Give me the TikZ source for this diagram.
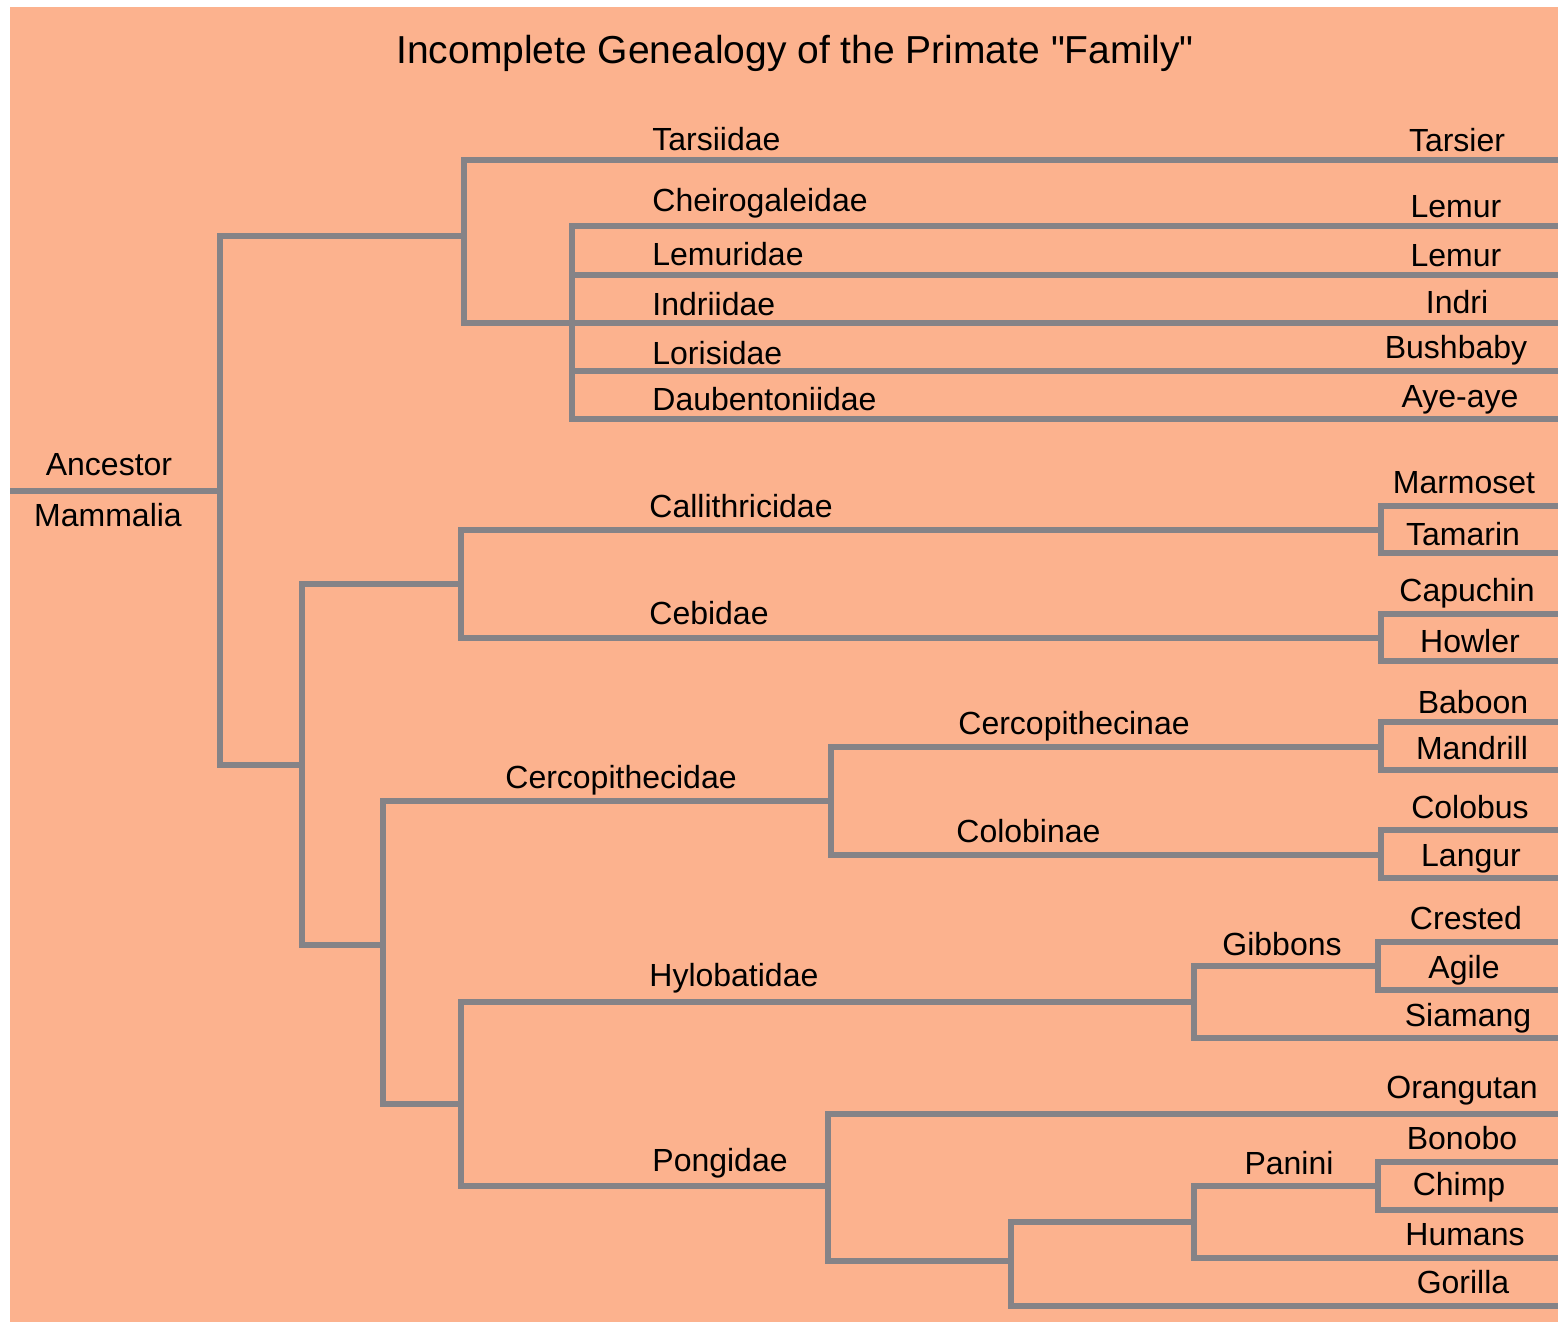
\documentclass[tikz,border=0pt]{standalone}
\usepackage{fontspec}
\setmainfont{Liberation Sans}[Ligatures=TeXOff]
\usepackage{tikz}
\definecolor{salmon}{RGB}{252,178,142}
\definecolor{branchgray}{RGB}{133,131,135}
\tikzset{
    branch/.style={draw=branchgray, line width=3pt, line join=miter},
    clade/.style={anchor=base west, inner sep=0pt, font=\fontsize{16pt}{18pt}\selectfont},
    species/.style={anchor=base, inner sep=0pt, font=\fontsize{16pt}{18pt}\selectfont},
}

\begin{document}
\begin{tikzpicture}[x=0.5pt, y=-0.5pt]
    \useasboundingbox (0,0) rectangle (1558,1322);
    \fill[salmon] (10,7) rectangle (1558,1322);
    \node[anchor=base, inner sep=0pt, font=\fontsize{19.5pt}{22pt}\selectfont] (title) at (795,64) {Incomplete Genealogy of the Primate "Family"};

    \coordinate (root) at (10,491);
    \coordinate (primates) at (220,491);
    \coordinate (prosimii) at (464,236);
    \coordinate (lemuroidea) at (572,323);
    \coordinate (anthropoidea) at (302,765);
    \coordinate (platyrrhini) at (461,584);
    \coordinate (callith) at (1381,530);
    \coordinate (cebid) at (1381,638);
    \coordinate (catarrhini) at (383,945);
    \coordinate (cercopith) at (831,801);
    \coordinate (cercopithecinae) at (1381,747);
    \coordinate (colobinae) at (1381,855);
    \coordinate (hominoidea) at (461,1104);
    \coordinate (hylobat) at (1194,1002);
    \coordinate (gibbons) at (1378,966);
    \coordinate (pongid) at (828,1186);
    \coordinate (african) at (1011,1261);
    \coordinate (panini) at (1194,1222);
    \coordinate (pan) at (1378,1186);

    \coordinate (tarsier) at (1558,160);
    \coordinate (lemurA) at (1558,226);
    \coordinate (lemurB) at (1558,275);
    \coordinate (indri) at (1558,323);
    \coordinate (bushbaby) at (1558,371);
    \coordinate (ayeaye) at (1558,419);
    \coordinate (marmoset) at (1558,506);
    \coordinate (tamarin) at (1558,553);
    \coordinate (capuchin) at (1558,614);
    \coordinate (howler) at (1558,661);
    \coordinate (baboon) at (1558,722);
    \coordinate (mandrill) at (1558,770);
    \coordinate (colobus) at (1558,830);
    \coordinate (langur) at (1558,878);
    \coordinate (crested) at (1558,942);
    \coordinate (agile) at (1558,990);
    \coordinate (siamang) at (1558,1038);
    \coordinate (orangutan) at (1558,1114);
    \coordinate (bonobo) at (1558,1162);
    \coordinate (chimp) at (1558,1210);
    \coordinate (humans) at (1558,1258);
    \coordinate (gorilla) at (1558,1306);

    \draw[branch] (root) -- (primates);
    \draw[branch] (primates) |- (prosimii);
    \draw[branch] (primates) |- (anthropoidea);
    \draw[branch] (prosimii) |- (tarsier);
    \draw[branch] (prosimii) |- (lemuroidea);
    \draw[branch] (lemuroidea) |- (lemurA);
    \draw[branch] (lemuroidea) |- (lemurB);
    \draw[branch] (lemuroidea) -- (indri);
    \draw[branch] (lemuroidea) |- (bushbaby);
    \draw[branch] (lemuroidea) |- (ayeaye);
    \draw[branch] (anthropoidea) |- (platyrrhini);
    \draw[branch] (anthropoidea) |- (catarrhini);
    \draw[branch] (platyrrhini) |- (callith);
    \draw[branch] (platyrrhini) |- (cebid);
    \draw[branch] (callith) |- (marmoset);
    \draw[branch] (callith) |- (tamarin);
    \draw[branch] (cebid) |- (capuchin);
    \draw[branch] (cebid) |- (howler);
    \draw[branch] (catarrhini) |- (cercopith);
    \draw[branch] (catarrhini) |- (hominoidea);
    \draw[branch] (cercopith) |- (cercopithecinae);
    \draw[branch] (cercopith) |- (colobinae);
    \draw[branch] (cercopithecinae) |- (baboon);
    \draw[branch] (cercopithecinae) |- (mandrill);
    \draw[branch] (colobinae) |- (colobus);
    \draw[branch] (colobinae) |- (langur);
    \draw[branch] (hominoidea) |- (hylobat);
    \draw[branch] (hominoidea) |- (pongid);
    \draw[branch] (hylobat) |- (gibbons);
    \draw[branch] (hylobat) |- (siamang);
    \draw[branch] (gibbons) |- (crested);
    \draw[branch] (gibbons) |- (agile);
    \draw[branch] (pongid) |- (orangutan);
    \draw[branch] (pongid) |- (african);
    \draw[branch] (african) |- (panini);
    \draw[branch] (african) |- (gorilla);
    \draw[branch] (panini) |- (pan);
    \draw[branch] (panini) |- (humans);
    \draw[branch] (pan) |- (bonobo);
    \draw[branch] (pan) |- (chimp);

    \node[species] (l-ancestor) at (109,475) {Ancestor};
    \node[species] (l-mammalia) at (108,526) {Mammalia};

    \node[clade] (l-tarsiidae) at (652,150) {Tarsiidae};
    \node[clade] (l-cheirogaleidae) at (652,211) {Cheirogaleidae};
    \node[clade] (l-lemuridae) at (652,265) {Lemuridae};
    \node[clade] (l-indriidae) at (652,315) {Indriidae};
    \node[clade] (l-lorisidae) at (652,364) {Lorisidae};
    \node[clade] (l-daubentoniidae) at (652,410) {Daubentoniidae};
    \node[clade] (l-callithricidae) at (649,517) {Callithricidae};
    \node[clade] (l-cebidae) at (649,624) {Cebidae};
    \node[clade] (l-cercopithecidae) at (505,788) {Cercopithecidae};
    \node[clade] (l-cercopithecinae) at (958,734) {Cercopithecinae};
    \node[clade] (l-colobinae) at (956,842) {Colobinae};
    \node[clade] (l-hylobatidae) at (649,986) {Hylobatidae};
    \node[clade] (l-pongidae) at (652,1171) {Pongidae};
    \node[species] (l-gibbons) at (1282,955) {Gibbons};
    \node[species] (l-panini) at (1289,1174) {Panini};

    \node[species] (l-tarsier) at (1457,151) {Tarsier};
    \node[species] (l-lemurA) at (1456,217) {Lemur};
    \node[species] (l-lemurB) at (1456,266) {Lemur};
    \node[species] (l-indri) at (1457,313) {Indri};
    \node[species] (l-bushbaby) at (1456,358) {Bushbaby};
    \node[species] (l-ayeaye) at (1460,407) {Aye-aye};
    \node[species] (l-marmoset) at (1464,493) {Marmoset};
    \node[species] (l-tamarin) at (1463,545) {Tamarin};
    \node[species] (l-capuchin) at (1467,601) {Capuchin};
    \node[species] (l-howler) at (1470,652) {Howler};
    \node[species] (l-baboon) at (1473,713) {Baboon};
    \node[species] (l-mandrill) at (1472,759) {Mandrill};
    \node[species] (l-colobus) at (1470,818) {Colobus};
    \node[species] (l-langur) at (1471,866) {Langur};
    \node[species] (l-crested) at (1466,929) {Crested};
    \node[species] (l-agile) at (1464,978) {Agile};
    \node[species] (l-siamang) at (1468,1026) {Siamang};
    \node[species] (l-orangutan) at (1462,1098) {Orangutan};
    \node[species] (l-bonobo) at (1462,1149) {Bonobo};
    \node[species] (l-chimp) at (1459,1195) {Chimp};
    \node[species] (l-humans) at (1465,1245) {Humans};
    \node[species] (l-gorilla) at (1463,1293) {Gorilla};
\end{tikzpicture}
\end{document}
